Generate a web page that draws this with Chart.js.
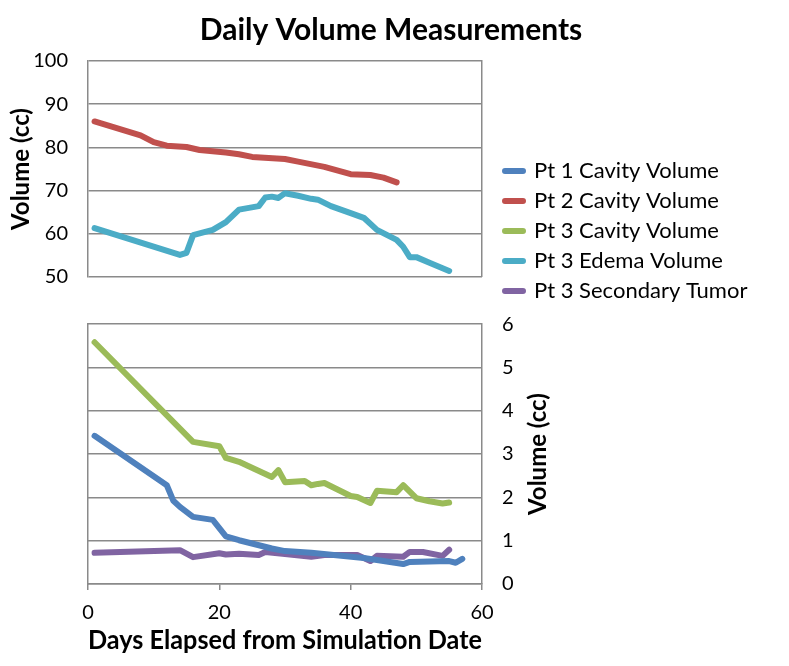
<!DOCTYPE html>
<html>
<head>
<meta charset="utf-8">
<title>Daily Volume Measurements</title>
<script src="https://cdn.jsdelivr.net/npm/chart.js@4.4.1/dist/chart.umd.min.js"></script>
<style>
  body { margin: 0; background: #fff; }
</style>
</head>
<body>
<canvas id="volChart" width="789" height="666"></canvas>
<script>
// values: day after simulation, volume in cc
const pt1Days = [1, 12, 13, 14, 16, 19, 21, 23, 28, 30, 34, 42, 48, 49, 55, 56, 57];
const pt1Vol  = [3.42, 2.28, 1.92, 1.78, 1.55, 1.48, 1.10, 1.01, 0.82, 0.76, 0.72, 0.60, 0.46, 0.51, 0.53, 0.49, 0.58];

const pt2Days = [1, 8, 10, 12, 15, 17, 21, 23, 25, 30, 32, 36, 40, 43, 45, 47];
const pt2Vol  = [86.0, 82.8, 81.2, 80.4, 80.1, 79.4, 78.8, 78.4, 77.8, 77.3, 76.7, 75.5, 73.8, 73.6, 73.0, 71.9];

const pt3CavDays = [1, 16, 20, 21, 23, 28, 29, 30, 33, 34, 35, 36, 40, 41, 43, 44, 47, 48, 50, 52, 54, 55];
const pt3CavVol  = [5.58, 3.28, 3.18, 2.91, 2.82, 2.47, 2.63, 2.35, 2.38, 2.28, 2.31, 2.33, 2.03, 2.01, 1.87, 2.15, 2.12, 2.28, 1.98, 1.91, 1.86, 1.88];

const pt3EdemaDays = [1, 14, 15, 16, 19, 21, 23, 26, 27, 28, 29, 30, 32, 34, 35, 37, 40, 42, 44, 47, 48, 49, 50, 52, 55];
const pt3EdemaVol  = [61.3, 55.1, 55.6, 59.7, 60.9, 62.7, 65.6, 66.4, 68.4, 68.6, 68.3, 69.4, 68.8, 68.1, 67.9, 66.4, 64.8, 63.7, 60.9, 58.6, 57.0, 54.6, 54.6, 53.3, 51.4];

const pt3TumorDays = [1, 14, 16, 20, 21, 23, 26, 27, 30, 34, 36, 41, 43, 44, 48, 49, 51, 54, 55];
const pt3TumorVol  = [0.72, 0.78, 0.62, 0.71, 0.68, 0.70, 0.67, 0.74, 0.69, 0.63, 0.67, 0.67, 0.53, 0.65, 0.63, 0.74, 0.74, 0.65, 0.79];

const dayTicks = [0, 20, 40, 60];
const topTicks = [50, 60, 70, 80, 90, 100];
const bottomTicks = [0, 1, 2, 3, 4, 5, 6];

const GRID = "#8a8a8a";
// split of the plot area: top panel ends, bottom panel starts (fraction of height)
const TOP_END = 0.413;
const BOTTOM_START = 0.503;

function pairs(days, vols) {
  return days.map((d, i) => ({ x: d, y: vols[i] }));
}

function series(label, color, days, vols, axis) {
  return {
    label: label,
    data: pairs(days, vols),
    yAxisID: axis,
    borderColor: color,
    backgroundColor: color,
    borderWidth: 6,
    borderCapStyle: "round",
    borderJoinStyle: "round",
    pointRadius: 0,
    tension: 0
  };
}

function setBox(box, left, right, top, bottom) {
  box.left = left;
  box.right = right;
  box.top = top;
  box.bottom = bottom;
  box.width = right - left;
  box.height = bottom - top;
  if (box.configure) box.configure();
}

// moves the y axes into two panels, the second title and the legend to their spots
const panels = {
  id: "panels",
  afterLayout(chart) {
    const ca = chart.chartArea;
    const h = ca.bottom - ca.top;
    const topEnd = ca.top + h * TOP_END;
    const botStart = ca.top + h * BOTTOM_START;
    const s = chart.scales;
    setBox(s.yTop, ca.left - s.yTop.width, ca.left, ca.top, topEnd);
    setBox(s.yTopEdge, ca.right, ca.right, ca.top, topEnd);
    setBox(s.yBot, ca.right, ca.right + s.yBot.width, botStart, ca.bottom);
    setBox(s.yBotEdge, ca.left, ca.left, botStart, ca.bottom);
    setBox(s.yBotTitle, ca.right + 42, ca.right + 42, botStart, ca.bottom);
    const lg = chart.legend;
    setBox(lg, ca.right + 15, ca.right + 300, ca.top + 91, ca.top + 260);
  }
};

function fixedTicks(list) {
  return (scale) => { scale.ticks = list.map(v => ({ value: v })); };
}

Chart.defaults.font.family = "Lato";
Chart.defaults.color = "#000";

window.onload = function() {
  const ctx = document.getElementById("volChart").getContext("2d");

  new Chart(ctx, {
    type: "line",
    data: {
      datasets: [
        series("Pt 1 Cavity Volume", "#4f81bd", pt1Days, pt1Vol, "yBot"),
        series("Pt 2 Cavity Volume", "#c0504d", pt2Days, pt2Vol, "yTop"),
        series("Pt 3 Cavity Volume", "#9bbb59", pt3CavDays, pt3CavVol, "yBot"),
        series("Pt 3 Edema Volume", "#4bacc6", pt3EdemaDays, pt3EdemaVol, "yTop"),
        series("Pt 3 Secondary Tumor", "#8064a2", pt3TumorDays, pt3TumorVol, "yBot")
      ]
    },
    options: {
      responsive: false,
      animation: false,
      layout: { padding: { top: 0, left: 0, right: 7, bottom: 0 } },
      plugins: {
        title: {
          display: true,
          text: "Daily Volume Measurements",
          font: { size: 30, weight: "bold" },
          padding: { top: 12, bottom: 13 }
        },
        legend: {
          position: "right",
          align: "start",
          maxWidth: 230,
          labels: {
            boxWidth: 18,
            boxHeight: 0,
            padding: 8,
            font: { size: 22 }
          }
        },
        tooltip: { enabled: false }
      },
      scales: {
        x: {
          type: "linear",
          position: "bottom",
          min: 0,
          max: 60,
          afterBuildTicks: fixedTicks(dayTicks),
          afterFit: (s) => { s.height = 82; },
          grid: { drawOnChartArea: false, tickLength: 6, color: GRID, lineWidth: 1.5 },
          border: { color: GRID, width: 1.5 },
          ticks: { padding: 11, font: { size: 20 } },
          title: {
            display: true,
            text: "Days Elapsed from Simulation Date",
            font: { size: 26, weight: "bold" },
            padding: { top: 0, bottom: 10 }
          }
        },
        yTop: {
          position: "left",
          min: 50,
          max: 100,
          afterBuildTicks: fixedTicks(topTicks),
          afterFit: (s) => { s.width = 88; },
          grid: { color: GRID, lineWidth: 1.5, drawTicks: false },
          border: { color: GRID, width: 1.5 },
          ticks: { padding: 20, font: { size: 20 } },
          title: {
            display: true,
            text: "Volume (cc)",
            font: { size: 24, weight: "bold" },
            padding: { top: 7, bottom: 0 }
          }
        },
        yTopEdge: {
          position: "right",
          min: 50,
          max: 100,
          ticks: { display: false },
          grid: { display: false, drawTicks: false },
          border: { color: GRID, width: 1.5 }
        },
        yBot: {
          position: "right",
          min: 0,
          max: 6,
          afterBuildTicks: fixedTicks(bottomTicks),
          afterFit: (s) => { s.width = 70; },
          grid: { color: GRID, lineWidth: 1.5, drawTicks: false },
          border: { color: GRID, width: 1.5 },
          ticks: { padding: 20, font: { size: 20 } }
        },
        yBotEdge: {
          position: "left",
          min: 0,
          max: 6,
          ticks: { display: false },
          grid: { display: false, drawTicks: false },
          border: { color: GRID, width: 1.5 }
        },
        // left-type axis only so the title reads bottom to top like the original
        yBotTitle: {
          position: "left",
          afterFit: (s) => { s.width = 0; },
          ticks: { display: false },
          grid: { display: false, drawTicks: false },
          border: { display: false },
          title: {
            display: true,
            text: "Volume (cc)",
            font: { size: 24, weight: "bold" },
            padding: 0
          }
        }
      }
    },
    plugins: [panels]
  });
};
</script>
</body>
</html>
